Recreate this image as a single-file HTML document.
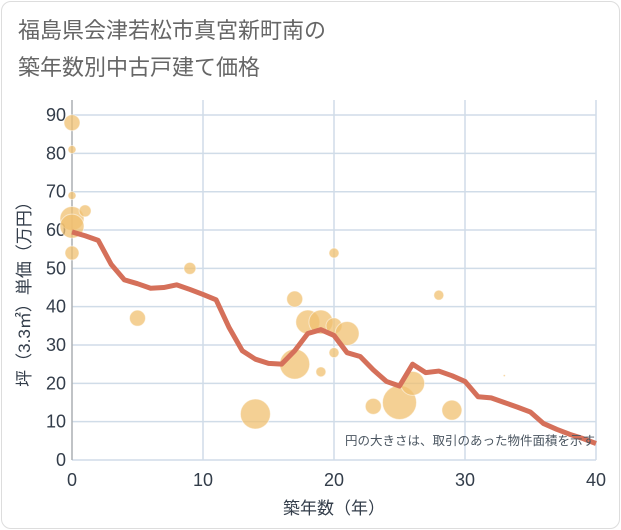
<!DOCTYPE html>
<html><head><meta charset="utf-8"><style>
body{margin:0;background:#fff}
#wrap{position:relative;width:621px;height:530px;font-family:"Liberation Sans","Noto Sans CJK JP",sans-serif}
.frame{position:absolute;left:1px;top:1px;width:617px;height:526px;border:1px solid #ddd;border-radius:10px}
.title{position:absolute;left:18px;top:12px;font-size:22px;line-height:37px;color:#666}
</style></head><body>
<div id="wrap">
<div class="frame"></div>
<div class="title">福島県会津若松市真宮新町南の<br>築年数別中古戸建て価格</div>
<svg id="chart" width="621" height="530" style="position:absolute;left:0;top:0"></svg>
</div>
<script>
const lineYears=[0,1,2,3,4,5,6,7,8,9,10,11,12,13,14,15,16,17,18,19,20,21,22,23,24,25,26,27,28,29,30,31,32,33,34,35,36,37,38,39,40];
const lineValues=[59.5,58.5,57.3,51,47,46,44.8,45,45.7,44.5,43.2,41.8,34.5,28.5,26.3,25.2,25,28.5,33,34,32.5,28,27,23.5,20.5,19.3,25,22.8,23.2,22,20.5,16.5,16.2,15,13.8,12.5,9.5,8,6.7,5.6,4.3];
const bubbleYears=[0,0,0,0,0,1,0,9,5,14,17,17,18,19,20,21,20,19,20,28,23,25,26,29,33];
const bubbleValues=[88,81,69,63,61,65,54,50,37,12,42,25,36,36,35,33,28,23,54,43,14,15,20,13,22];
const bubbleSizes=[8,4,4,12,12,6,7,6,8,15,8,15,12,12,8,12,5,5,5,5,8,17,12,10,1];
const xTicks=[0,10,20,30,40];
const yTicks=[0,10,20,30,40,50,60,70,80,90];
const NS="http://www.w3.org/2000/svg";
const svg=document.getElementById('chart');
const X=v=>72+v*13.1, Y=v=>460-v*3.833;
function mk(t,a){const e=document.createElementNS(NS,t);for(const k in a)e.setAttribute(k,a[k]);svg.appendChild(e);return e;}
yTicks.forEach(t=>{const l=mk('line',{x1:72,x2:596,y1:Y(t),y2:Y(t),stroke:'#d0dce8','stroke-width':1.5});


const tx=mk('text',{x:66,y:Y(t)+6,'text-anchor':'end','font-size':18,fill:'#333d4a'});tx.textContent=t;

});
xTicks.forEach(t=>{const l=mk('line',{x1:X(t),x2:X(t),y1:100,y2:460,stroke:'#d0dce8','stroke-width':1.5});


const tx=mk('text',{x:X(t),y:486,'text-anchor':'middle','font-size':18,fill:'#333d4a'});tx.textContent=t;

});
const ax=mk('line',{x1:72,x2:72,y1:100,y2:460,stroke:'#999','stroke-width':1});


bubbleYears.forEach((yr,i)=>{const c=mk('circle',{cx:X(yr),cy:Y(bubbleValues[i]),r:bubbleSizes[i],fill:'#f0c070','fill-opacity':0.75,stroke:'#fff','stroke-opacity':0.5});

});
const p=mk('polyline',{points:lineYears.map((yr,i)=>X(yr)+','+Y(lineValues[i])).join(' '),fill:'none',stroke:'#d5705a','stroke-width':5,'stroke-linejoin':'round'});


const n=mk('text',{x:595,y:445,'text-anchor':'end','font-size':12.5,fill:'#4a5560'});n.textContent='円の大きさは、取引のあった物件面積を示す';


const xt=mk('text',{x:334,y:514,'text-anchor':'middle','font-size':17,fill:'#333d4a'});xt.textContent='築年数（年）';


const yt=mk('text',{x:0,y:0,'text-anchor':'middle','font-size':17,fill:'#333d4a',transform:'translate(30,290) rotate(-90)'});yt.textContent='坪（3.3㎡）単価（万円）';


</script>
</body></html>
